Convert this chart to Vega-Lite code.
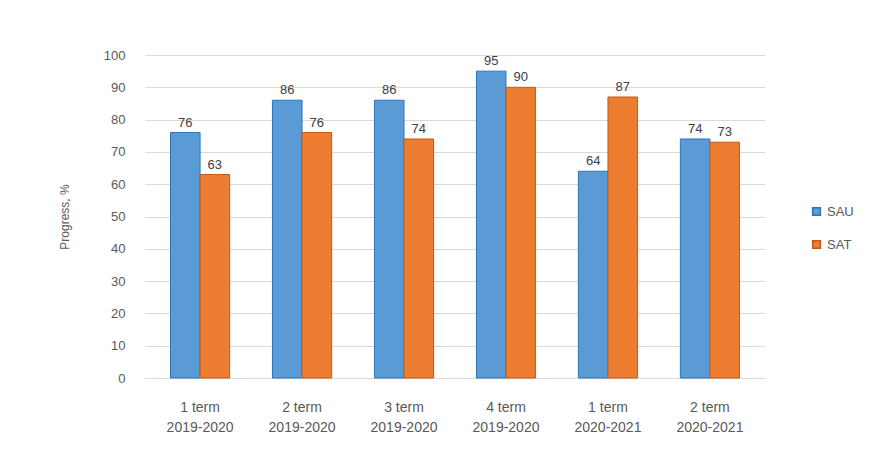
{
  "$schema": "https://vega.github.io/schema/vega-lite/v6.json",
  "autosize": "none",
  "width": 620,
  "height": 323,
  "padding": {"left": 145, "top": 55, "right": 112, "bottom": 72},
  "background": "white",
  "data": {
    "values": [
      {"term": "1 term|2019-2020", "series": "SAU", "value": 76},
      {"term": "1 term|2019-2020", "series": "SAT", "value": 63},
      {"term": "2 term|2019-2020", "series": "SAU", "value": 86},
      {"term": "2 term|2019-2020", "series": "SAT", "value": 76},
      {"term": "3 term|2019-2020", "series": "SAU", "value": 86},
      {"term": "3 term|2019-2020", "series": "SAT", "value": 74},
      {"term": "4 term|2019-2020", "series": "SAU", "value": 95},
      {"term": "4 term|2019-2020", "series": "SAT", "value": 90},
      {"term": "1 term|2020-2021", "series": "SAU", "value": 64},
      {"term": "1 term|2020-2021", "series": "SAT", "value": 87},
      {"term": "2 term|2020-2021", "series": "SAU", "value": 74},
      {"term": "2 term|2020-2021", "series": "SAT", "value": 73}
    ]
  },
  "encoding": {
    "x": {
      "field": "term", "type": "nominal", "sort": null,
      "scale": {"paddingInner": 0.42, "paddingOuter": 0.25},
      "axis": {
        "title": null, "labelAngle": 0, "labelExpr": "split(datum.label, '|')",
        "labelFont": "Liberation Sans", "labelFontSize": 14, "labelColor": "#595959",
        "labelPadding": 22, "labelLineHeight": 20, "ticks": false,
        "domainColor": "#d9d9d9", "grid": false
      }
    },
    "xOffset": {"field": "series", "type": "nominal", "sort": ["SAU", "SAT"]},
    "y": {
      "field": "value", "type": "quantitative",
      "scale": {"domain": [0, 100]},
      "axis": {
        "title": "Progress, %", "titleFont": "Liberation Sans", "titleFontSize": 12,
        "titleFontWeight": "normal", "titleColor": "#595959", "titlePadding": 32,
        "values": [0,10,20,30,40,50,60,70,80,90,100], "labelOverlap": false,
        "labelFont": "Liberation Sans", "labelFontSize": 13, "labelColor": "#595959",
        "labelPadding": 20, "ticks": false, "domain": false,
        "gridColor": "#d9d9d9", "gridWidth": 1
      }
    }
  },
  "layer": [
    {
      "mark": {"type": "bar", "strokeWidth": 1},
      "encoding": {
        "color": {
          "field": "series", "type": "nominal",
          "scale": {"domain": ["SAU", "SAT"], "range": ["#5b9bd5", "#ed7d31"]},
          "legend": {
            "title": null, "orient": "none", "legendX": 665, "legendY": 150,
            "symbolType": "square", "symbolSize": 60, "rowPadding": 18,
            "labelFont": "Liberation Sans", "labelFontSize": 13, "labelColor": "#595959"
          }
        },
        "stroke": {
          "field": "series", "type": "nominal",
          "scale": {"domain": ["SAU", "SAT"], "range": ["#2e75b6", "#c55a11"]},
          "legend": null
        }
      }
    },
    {
      "mark": {"type": "text", "dy": -10, "font": "Liberation Sans", "fontSize": 13, "color": "#404040"},
      "encoding": {"text": {"field": "value", "type": "quantitative"}}
    }
  ],
  "config": {"view": {"stroke": null}}
}
